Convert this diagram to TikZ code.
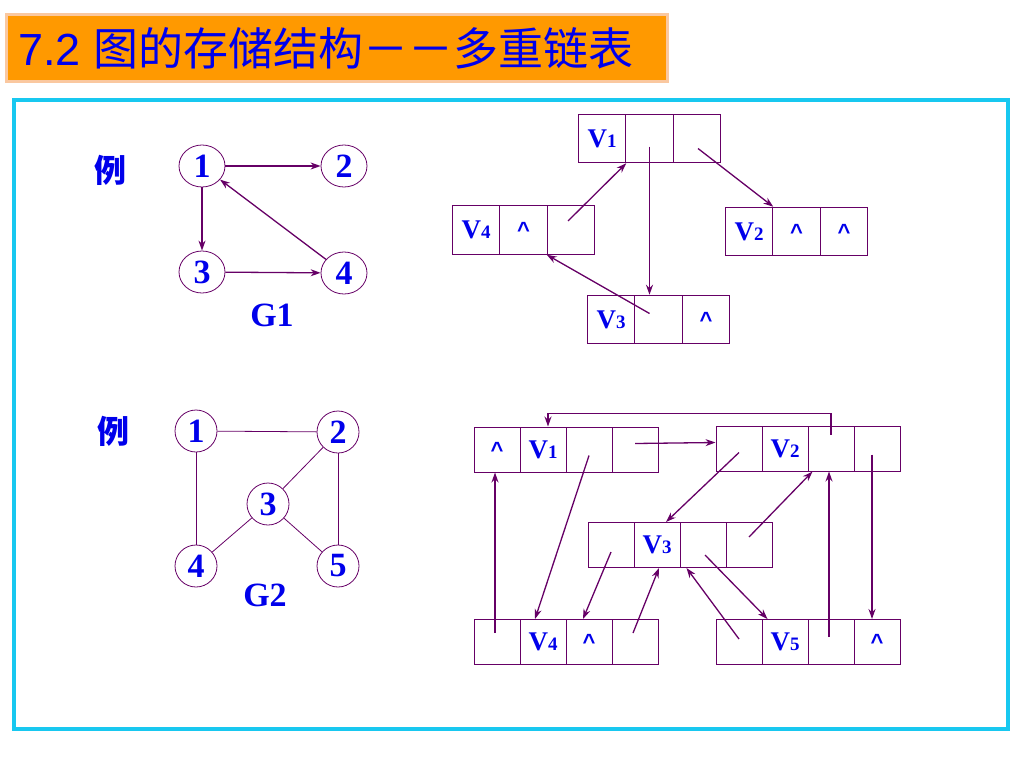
\documentclass[tikz,border=0pt]{standalone}
\usepackage{fontspec}
\setmainfont{Liberation Serif}
\newfontfamily\cjk{Noto Sans CJK SC}
\newfontfamily\titlefont{Liberation Sans}
\usetikzlibrary{arrows.meta,shapes.geometric}

\definecolor{linec}{RGB}{102,0,102}
\definecolor{framec}{RGB}{24,200,240}
\definecolor{titlebg}{RGB}{255,153,0}
\definecolor{titleedge}{RGB}{250,200,160}
\definecolor{txtc}{RGB}{0,0,235}

\newcommand{\vlab}[1]{V{\fontsize{19}{19}\selectfont #1}}
\newcommand{\nilmark}{{\titlefont\bfseries\fontsize{22}{22}\selectfont\textasciicircum}}

\tikzset{
	vertex/.style={ellipse, draw=linec, line width=0.8pt, minimum width=46pt, minimum height=42pt, inner sep=0pt, text=txtc, font=\fontsize{34}{34}\selectfont\bfseries},
	roundvertex/.style={vertex, minimum width=42pt},
	cell/.style={rectangle, draw=linec, line width=1pt, minimum width=47.5pt, minimum height=48.5pt, inner sep=0pt, text=txtc, font=\fontsize{27}{27}\selectfont\bfseries},
	smallcell/.style={cell, minimum width=46pt, minimum height=45pt},
	arc/.style={draw=linec, line width=1.3pt, -{Stealth[length=10pt,width=7pt]}},
	link/.style={draw=linec, line width=0.8pt},
	glabel/.style={text=txtc, font=\fontsize{34}{34}\selectfont\bfseries},
	exlabel/.style={text=txtc, font=\cjk\fontsize{32}{32}\selectfont\bfseries}
}

\begin{document}
\begin{tikzpicture}[x=1pt,y=-1pt]
	    \useasboundingbox (0,0) rectangle (1024,768);
	    
	    \draw[titleedge, line width=3pt, fill=titlebg] (6.5,14.5) rectangle (667,81.5);
	    \node[anchor=base west, inner sep=0pt, text=txtc, font=\fontsize{45}{45}\selectfont] (title) at (18,65) {\titlefont 7.2 \cjk 图的存储结构－－多重链表};
	    \draw[framec, line width=4pt] (13.5,100) rectangle (1008,729);
	    
	    \node[exlabel] (ex1) at (110,170) {例};
	    \node[vertex] (P1) at (202,166) {1};
	    \node[vertex] (P2) at (344,166) {2};
	    \node[vertex] (P3) at (202,272) {3};
	    \node[vertex] (P4) at (344,273) {4};
	    \node[glabel] (G1) at (272,315) {G1};
	    
	    \draw[arc] (P1) -- (P2);
	    \draw[arc] (P1) -- (P3);
	    \draw[arc] (P3) -- (P4);
	    \draw[arc] (P4) -- (P1);
	    
	    \node[exlabel] (ex2) at (113,431) {例};
	    \node[roundvertex] (Q1) at (196,431) {1};
	    \node[roundvertex] (Q2) at (338,432) {2};
	    \node[roundvertex] (Q3) at (268,504) {3};
	    \node[roundvertex] (Q4) at (196,566) {4};
	    \node[roundvertex] (Q5) at (338,566) {5};
	    \node[glabel] (G2) at (265,595) {G2};
	    
	    \draw[link] (Q1) -- (Q2);
	    \draw[link] (Q1) -- (Q4);
	    \draw[link] (Q2) -- (Q3);
	    \draw[link] (Q2) -- (Q5);
	    \draw[link] (Q3) -- (Q4);
	    \draw[link] (Q3) -- (Q5);
	    
	    \node[cell] (T1a) at (602,138.5) {\vlab1};
	    \node[cell] (T1b) at (649.5,138.5) {};
	    \node[cell] (T1c) at (697,138.5) {};
	    
	    \node[cell] (T4a) at (476,230) {\vlab4};
	    \node[cell] (T4b) at (523.5,230) {\nilmark};
	    \node[cell] (T4c) at (571,230) {};
	    
	    \node[cell] (T2a) at (749,231.5) {\vlab2};
	    \node[cell] (T2b) at (796.5,231.5) {\nilmark};
	    \node[cell] (T2c) at (844,231.5) {\nilmark};
	    
	    \node[cell] (T3a) at (611,319.5) {\vlab3};
	    \node[cell] (T3b) at (658.5,319.5) {};
	    \node[cell] (T3c) at (706,319.5) {\nilmark};
	    
	    \draw[arc] ([yshift=-8pt]T1b.center) -- (T1b.center |- T3b.north);
	    \draw[arc] ([shift={(1pt,-10pt)}]T1c.center) -- (T2a.north east);
	    \draw[arc] ([shift={(-3pt,9pt)}]T4c.center) -- (T1a.south east);
	    \draw[arc] ([shift={(-9pt,6pt)}]T3b.center) -- (T4c.south west);
	    
	    \node[smallcell] (B1a) at (497,449.5) {\nilmark};
	    \node[smallcell] (B1b) at (543,449.5) {\vlab1};
	    \node[smallcell] (B1c) at (589,449.5) {};
	    \node[smallcell] (B1d) at (635,449.5) {};
	    
	    \node[smallcell] (B2a) at (739,448.5) {};
	    \node[smallcell] (B2b) at (785,448.5) {\vlab2};
	    \node[smallcell] (B2c) at (831,448.5) {};
	    \node[smallcell] (B2d) at (877,448.5) {};
	    
	    \node[smallcell] (B3a) at (611,545) {};
	    \node[smallcell] (B3b) at (657,545) {\vlab3};
	    \node[smallcell] (B3c) at (703,545) {};
	    \node[smallcell] (B3d) at (749,545) {};
	    
	    \node[smallcell] (B4a) at (497,642) {};
	    \node[smallcell] (B4b) at (543,642) {\vlab4};
	    \node[smallcell] (B4c) at (589,642) {\nilmark};
	    \node[smallcell] (B4d) at (635,642) {};
	    
	    \node[smallcell] (B5a) at (739,642) {};
	    \node[smallcell] (B5b) at (785,642) {\vlab5};
	    \node[smallcell] (B5c) at (831,642) {};
	    \node[smallcell] (B5d) at (877,642) {\nilmark};
	    
	    \draw[arc] ([yshift=14pt]B2c.center) |- ([shift={(5pt,13pt)}]B1b.north) -- ([xshift=5pt]B1b.north);
	    \draw[arc] ([yshift=6pt]B1d.center) -- ([yshift=6pt]B2a.west);
	    \draw[arc] ([yshift=-6pt]B1c.center) -- ([xshift=-8pt]B4b.north);
	    \draw[arc] ([shift={(-2pt,9pt)}]B4a.center) -- ([xshift=-2pt]B1a.south);
	    \draw[arc] ([yshift=-4pt]B2a.center) -- ([xshift=9pt]B3b.north);
	    \draw[arc] ([yshift=8pt]B3d.center) -- ([xshift=5pt]B2c.south west);
	    \draw[arc] ([shift={(-2pt,5pt)}]B5c.center) -- ([xshift=-2pt]B2c.south);
	    \draw[arc] ([shift={(-5pt,-6pt)}]B2d.center) -- ([xshift=-5pt]B5d.north);
	    \draw[arc] ([yshift=-7pt]B3a.center) -- ([xshift=-6pt]B4c.north);
	    \draw[arc] ([shift={(-2pt,9pt)}]B4d.center) -- ([xshift=2pt]B3b.south);
	    \draw[arc] ([yshift=3pt]B5a.center) -- ([xshift=7pt]B3c.south west);
	    \draw[arc] ([shift={(2pt,-10pt)}]B3c.center) -- ([xshift=6pt]B5b.north west);
	    
\end{tikzpicture}
\end{document}
